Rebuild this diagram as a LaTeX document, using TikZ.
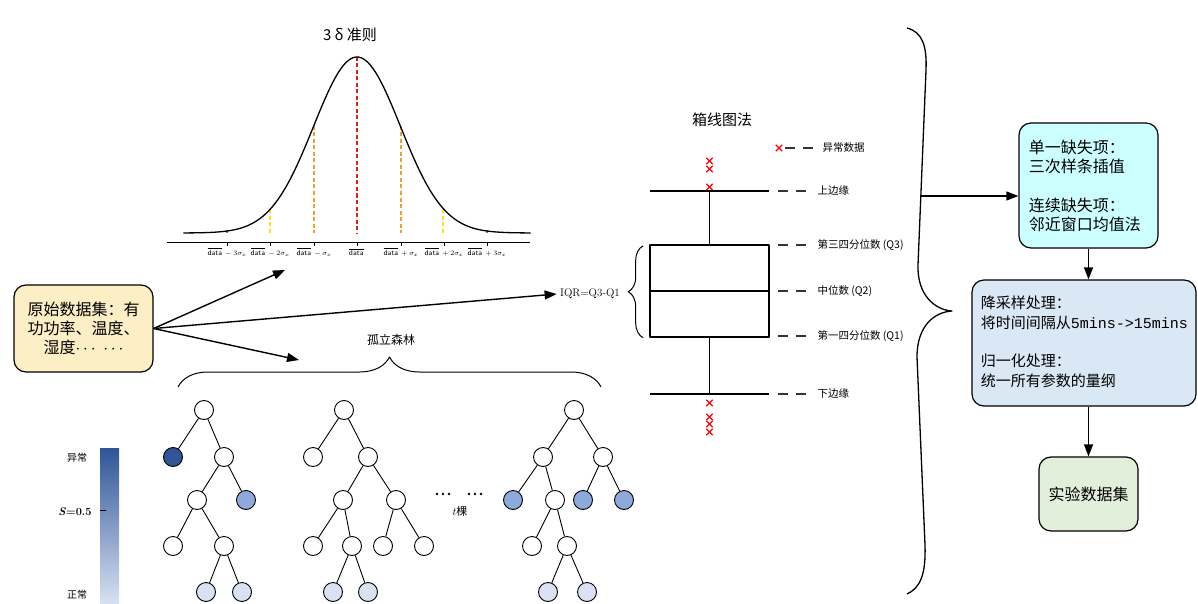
\documentclass[tikz,border=0pt]{standalone}
\usepackage{fontspec}
\newfontfamily\cjk{Noto Sans CJK SC}
\setmonofont{Liberation Mono}
\usetikzlibrary{arrows.meta,shapes.misc,decorations.pathreplacing,positioning}
\definecolor{anom}{HTML}{2F5597}
\definecolor{midb}{HTML}{8EA9DB}
\definecolor{lowb}{HTML}{D9E1F2}
\definecolor{srcy}{HTML}{FCEFC6}
\definecolor{cyanb}{HTML}{CCFFFF}
\definecolor{procb}{HTML}{DAE8F5}
\definecolor{outg}{HTML}{E2EFDA}
\definecolor{sigone}{HTML}{F0A030}
\definecolor{sigtwo}{HTML}{FFE21A}
\definecolor{sigthree}{HTML}{33AA33}
\definecolor{sigzero}{HTML}{E02020}
\tikzset{
  tnode/.style={circle, draw, line width=0.9pt, minimum size=19pt, inner sep=0pt, fill=white},
  flowbox/.style={draw, line width=1.2pt, rounded corners=12pt, inner sep=0pt},
  outl/.style={cross out, draw=red, line width=1.3pt, minimum size=5pt, inner sep=0pt},
  dashmark/.style={line width=1.8pt, draw=black!80, dash pattern=on 10pt off 8pt},
  bpline/.style={line width=1.6pt},
  sigline/.style={line width=1.2pt, dash pattern=on 4pt off 2.5pt},
}
\begin{document}
\begin{tikzpicture}[x=1pt, y=-1pt, line join=round, >={Triangle[length=12pt,width=9pt]}]
  \useasboundingbox (0,0) rectangle (1198,604);
  % normal curve
  \node[font=\fontsize{15}{18}\selectfont] (gtitle) at (350,35) {\cjk 3 δ 准则};
  \draw[line width=0.7pt] (167,242) -- (530,242);
  \draw[sigline, sigzero] (357,57) -- (357,233);
  \draw[sigline, sigone] (314,126) -- (314,233) (401,126) -- (401,233);
  \draw[sigline, sigtwo] (270,209) -- (270,233) (443,209) -- (443,233);
  \draw[sigline, sigthree] (227,230) -- (227,233) (487,230) -- (487,233);
  \draw[line width=1.3pt] plot[domain=-4:4, samples=120, smooth] ({357+43.4*\x},{233-176*exp(-0.5*\x*\x)});
  \foreach \x/\t in {227/{-3\sigma_x}, 270/{-2\sigma_x}, 314/{-\sigma_x}, 357/{}, 401/{+\sigma_x}, 444/{+2\sigma_x}, 487/{+3\sigma_x}}
  {
    \draw[line width=0.5pt] (\x,242) -- (\x,246);
    \node[font=\fontsize{7.5}{8}\selectfont\sffamily] at (\x,252) {$\overline{\mathsf{data}}\,\t$};
  }
  % box plot
  \node[font=\fontsize{15}{18}\selectfont] (btitle) at (722,120) {\cjk 箱线图法};
  \node[draw, bpline, minimum width=119pt, minimum height=92pt] (box) at (709.5,291) {};
  \draw[bpline] (box.west) -- (box.east);
  \coordinate (top) at (709.5,191);
  \coordinate (bot) at (709.5,394);
  \draw[bpline] (650,191) -- (769,191) (650,394) -- (769,394);
  \draw[bpline] (box.north) -- (top) (box.south) -- (bot);
  \foreach \y in {161,169,187,403,417,424,432}
  \node[outl] at (709.5,\y) {};
  \node[outl] (lgx) at (779,148) {};
  \draw[dashmark] (785,148) -- (813,148);
  \node[anchor=west, font=\fontsize{10.5}{12}\selectfont] at (819,148) {\cjk 异常数据};
  \foreach \y/\t in {191/上边缘, 245/{第三四分位数 (Q3)}, 291/{中位数 (Q2)}, 336/{第一四分位数 (Q1)}, 394/下边缘}
  {
    \draw[dashmark] (778,\y) -- (806,\y);
    \node[anchor=west, font=\fontsize{10.5}{12}\selectfont] at (814,\y) {\cjk \t};
  }
  \draw[line width=1pt, decorate, decoration={brace, amplitude=15pt}] (box.south west) ++(-6,0) -- ++(0,-92);
  \node[font=\fontsize{11}{13}\selectfont] (iqr) at (590,294) {IQR=Q3-Q1};
  % source
  \node[flowbox, fill=srcy, minimum width=139pt, minimum height=87pt, align=center,
        font=\fontsize{16}{19}\selectfont] (src) at (83.5,328.5)
        {\cjk 原始数据集：有\\ \cjk 功功率、温度、\\ \cjk 湿度$\cdots\;\cdots$};
  \coordinate (gs) at (285,270);
  \coordinate (fo) at (299,360);
  \draw[->, line width=1.4pt] (src.east) -- (gs);
  \draw[->, line width=1.4pt] (src.east) -- (fo);
  \draw[->, line width=1.4pt] (src.east) -- (iqr.west);
  % isolation forest
  \node[font=\fontsize{12}{14}\selectfont] (ftitle) at (391,340) {\cjk 孤立森林};
  \draw[line width=1pt, decorate, decoration={brace, amplitude=30pt}] (178,387) -- (601,387);
  \foreach \n/\x/\y/\c in {a0/204/410/white, a1/173/457/anom, a2/224/457/white, a3/197/500/white, a4/246/500/midb,
      a5/173/546/white, a6/224/546/white, a7/206/592/lowb, a8/242/592/lowb,
      b0/344/410/white, b1/313/457/white, b2/368/457/white, b3/343/500/white, b4/396/500/white,
      b5/313/546/white, b6/352/546/white, b7/383/546/white, b8/424/546/white, b9/333/592/lowb, b10/368/592/lowb,
      c0/574/410/white, c1/543/457/white, c2/603/457/white, c3/513/500/midb, c4/555/500/white, c5/583/500/midb,
      c6/624/500/midb, c7/532/546/white, c8/567/546/white, c9/548/592/lowb, c10/587/592/lowb}
  \node[tnode, fill=\c] (\n) at (\x,\y) {};
  \foreach \p/\q in {a0/a1, a0/a2, a2/a3, a2/a4, a3/a5, a3/a6, a6/a7, a6/a8,
      b0/b1, b0/b2, b2/b3, b2/b4, b3/b5, b3/b6, b4/b7, b4/b8, b6/b9, b6/b10,
      c0/c1, c0/c2, c1/c3, c1/c4, c2/c5, c2/c6, c4/c7, c4/c8, c8/c9, c8/c10}
  \draw[line width=0.9pt] (\p) -- (\q);
  \foreach \x in {437,443,449,469,475,481}
  \fill (\x,494) circle (1.3pt);
  \node[font=\fontsize{11}{13}\selectfont] (tcnt) at (460,511) {$t$\cjk 棵};
  % score bar
  \shade[top color=anom, middle color=anom!60!lowb, bottom color=lowb] (100,448) rectangle (119,604);
  \draw[line width=0.8pt] (100,510) -- (106,510);
  \node[font=\fontsize{10}{12}\selectfont] (hi) at (77,458) {\cjk 异常};
  \node[font=\fontsize{11}{12}\selectfont\bfseries] (mid) at (75,512) {\textit{S}=0.5};
  \node[font=\fontsize{10}{12}\selectfont] (lo) at (77,595) {\cjk 正常};
  % big brace
  \draw[line width=1.3pt] (907,28) .. controls (922,32) and (927,45) .. (926,70) -- (918,265)
    .. controls (917,295) and (935,310) .. (952,311) .. controls (935,312) and (917,325) .. (917,357)
    -- (925,545) .. controls (926,575) and (920,588) .. (907,594);
  \coordinate (bst) at (921,196);
  % pipeline
  \node[flowbox, fill=cyanb, minimum width=139pt, minimum height=125pt] (fill) at (1088.5,185.5) {};
  \node[anchor=north west, align=left, font=\fontsize{16}{19.5}\selectfont] at (fill.north west) [xshift=7pt, yshift=-14pt]
    {\cjk 单一缺失项：\\ \cjk 三次样条插值\\[19pt] \cjk 连续缺失项：\\ \cjk 邻近窗口均值法};
  \node[flowbox, fill=procb, minimum width=224pt, minimum height=126pt] (proc) at (1084,343) {};
  \node[anchor=north west, align=left, font=\fontsize{15}{19.5}\selectfont] at (proc.north west) [xshift=6pt, yshift=-13pt]
    {\cjk 降采样处理：\\ \cjk 将时间间隔从\texttt{5mins->15mins}\\[19pt] \cjk 归一化处理：\\ \cjk 统一所有参数的量纲};
  \node[flowbox, fill=outg, minimum width=99pt, minimum height=74pt, font=\fontsize{16}{19}\selectfont] (out) at (1088.5,494) {\cjk 实验数据集};
  \draw[->, line width=1.2pt] (bst) -- (bst -| fill.west);
  \draw[->, line width=1.2pt] (fill.south) -- (fill.south |- proc.north);
  \draw[->, line width=1.2pt] (out.north |- proc.south) -- (out.north);
\end{tikzpicture}
\end{document}
